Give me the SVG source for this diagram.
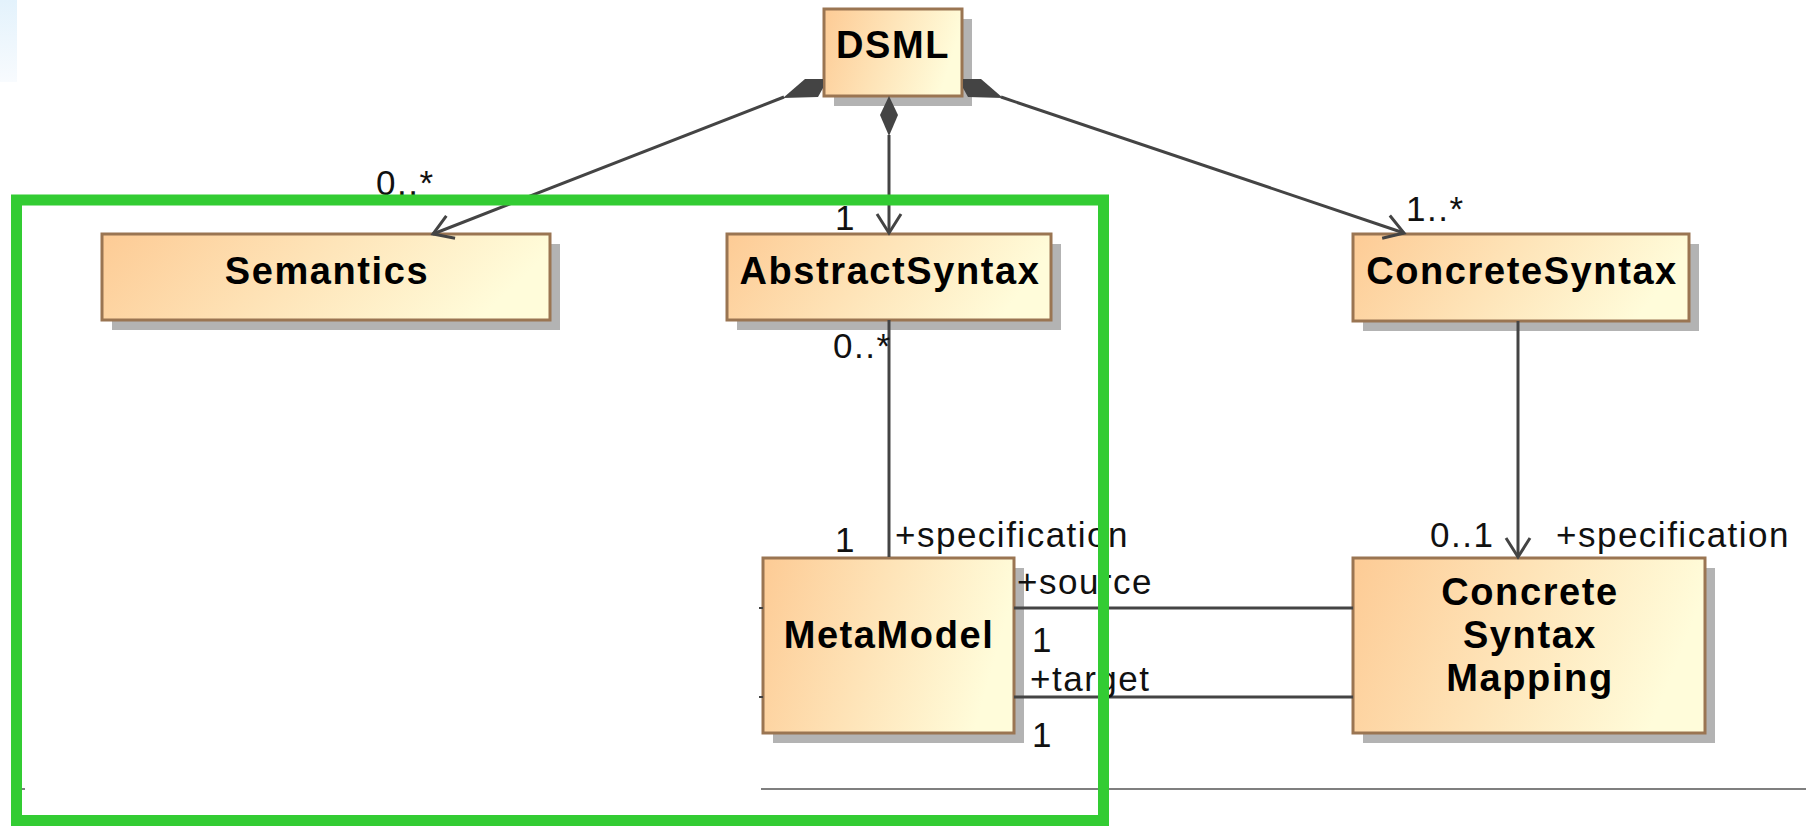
<svg xmlns="http://www.w3.org/2000/svg" width="1806" height="826" viewBox="0 0 1806 826">
<style>
.box{stroke:#9a7552;stroke-width:3;fill:url(#g)}
.shadow{fill:#b3b3b3}
.title{font-family:"Liberation Sans",Arial,sans-serif;font-weight:bold;font-size:38px;letter-spacing:1.6px;fill:#000;text-anchor:middle}
.lbl{font-family:"Liberation Sans",Arial,sans-serif;font-size:35px;letter-spacing:1.5px;fill:#111}
.conn{stroke:#444;stroke-width:3;fill:none}
.dia{fill:#444;stroke:none}
</style>
<defs>
<linearGradient id="g" x1="0" y1="0" x2="1" y2="0.2">
<stop offset="0" stop-color="#fdcb95"/>
<stop offset="1" stop-color="#fffcda"/>
</linearGradient>
<linearGradient id="blue" x1="0" y1="0" x2="0" y2="1">
<stop offset="0" stop-color="#e3f2fc"/>
<stop offset="1" stop-color="#f8fbfe"/>
</linearGradient>
<marker id="open" markerUnits="userSpaceOnUse" markerWidth="30" markerHeight="30" viewBox="-22 -15 26 30" refX="0" refY="0" orient="auto">
<path d="M-19,-12 L0,0 L-19,12" fill="none" stroke="#444" stroke-width="3"/>
</marker>
</defs>
<rect width="1806" height="826" fill="#fff"/>
<rect x="0" y="0" width="17" height="82" fill="url(#blue)"/>

<g id="nodes">
<g id="DSML">
<rect class="shadow" x="834" y="19" width="138" height="87"/>
<rect class="box" x="824" y="9" width="138" height="87"/>
<text class="title" x="893" y="58">DSML</text>
</g>
<g id="Semantics">
<rect class="shadow" x="112" y="244" width="448" height="86"/>
<rect class="box" x="102" y="234" width="448" height="86"/>
<text class="title" x="327" y="284">Semantics</text>
</g>
<g id="AbstractSyntax">
<rect class="shadow" x="737" y="244" width="324" height="86"/>
<rect class="box" x="727" y="234" width="324" height="86"/>
<text class="title" x="890" y="284">AbstractSyntax</text>
</g>
<g id="ConcreteSyntax">
<rect class="shadow" x="1363" y="244" width="336" height="87"/>
<rect class="box" x="1353" y="234" width="336" height="87"/>
<text class="title" x="1522" y="284">ConcreteSyntax</text>
</g>
<g id="MetaModel">
<rect class="shadow" x="773" y="568" width="251" height="175"/>
<rect class="box" x="763" y="558" width="251" height="175"/>
<text class="title" x="889" y="648">MetaModel</text>
</g>
<g id="ConcreteSyntaxMapping">
<rect class="shadow" x="1363" y="568" width="352" height="175"/>
<rect class="box" x="1353" y="558" width="352" height="175"/>
<text class="title" x="1530" y="605">Concrete</text>
<text class="title" x="1530" y="648">Syntax</text>
<text class="title" x="1530" y="691">Mapping</text>
</g>
</g>

<g id="connectors">
<path class="conn" d="M784,97 L433,234" marker-end="url(#open)"/>
<polygon class="dia" points="823,79 805,79 783,98 818,97 823,88"/>
<path class="conn" d="M889,135 L889,233" marker-end="url(#open)"/>
<polygon class="dia" points="889,96 898,115 889,136 880,115"/>
<path class="conn" d="M1001,97 L1404,233" marker-end="url(#open)"/>
<polygon class="dia" points="963,79 981,79 1003,98 968,97 963,88"/>
<path class="conn" d="M889,320 L889,557"/>
<path class="conn" d="M1518,321 L1518,557" marker-end="url(#open)"/>
<path class="conn" d="M1014,608 L1353,608"/>
<path class="conn" d="M1014,697 L1353,697"/>
<path d="M759,608 H763 M759,697 H763" stroke="#444" stroke-width="2"/>
<path d="M761,789 H1806 M21,789 H25" stroke="#555" stroke-width="1.5"/>
</g>

<g id="labels">
<text class="lbl" x="376" y="195">0..*</text>
<text class="lbl" x="835" y="230">1</text>
<text class="lbl" x="1406" y="221">1..*</text>
<text class="lbl" x="833" y="358">0..*</text>
<text class="lbl" x="835" y="552">1</text>
<text class="lbl" x="895" y="547">+specification</text>
<text class="lbl" x="1017" y="594">+source</text>
<text class="lbl" x="1032" y="652">1</text>
<text class="lbl" x="1030" y="691">+target</text>
<text class="lbl" x="1032" y="747">1</text>
<text class="lbl" x="1430" y="547">0..1</text>
<text class="lbl" x="1556" y="547">+specification</text>
</g>

<rect id="highlight" x="16.5" y="200" width="1087" height="620.5" fill="none" stroke="#33cc33" stroke-width="11"/>
</svg>
